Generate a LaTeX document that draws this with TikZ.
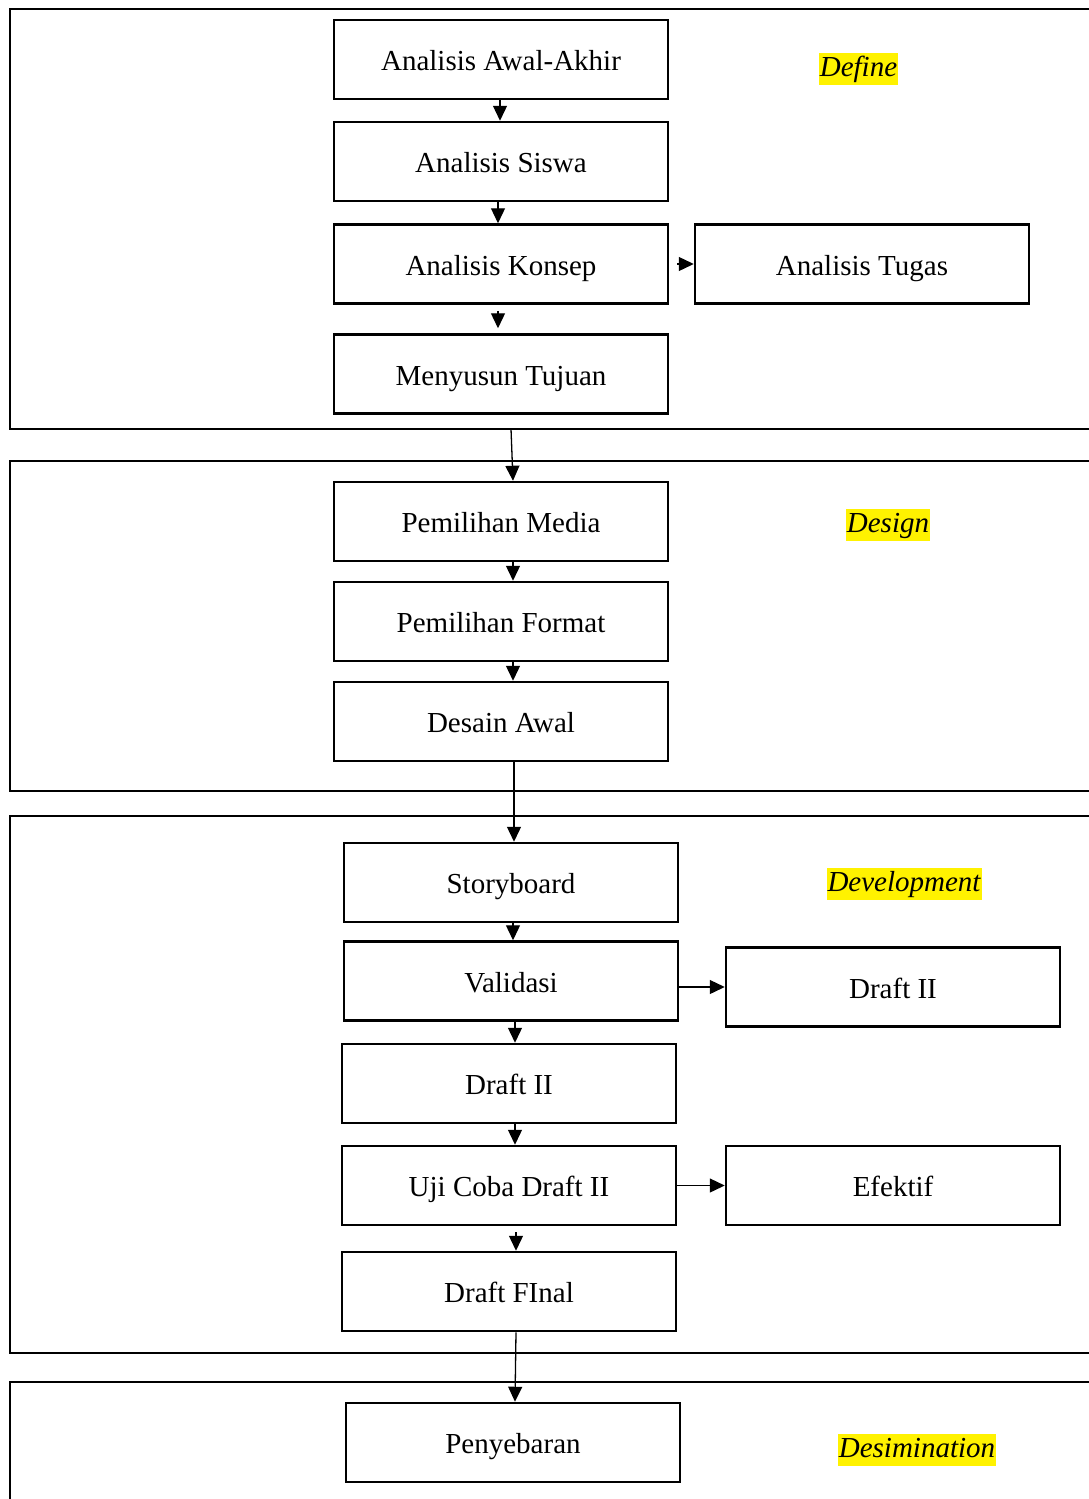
\documentclass[tikz,border=0pt]{standalone}
\usepackage{fontspec}
\setmainfont{Liberation Serif}
\usetikzlibrary{arrows.meta}
\begin{document}
\begin{tikzpicture}[x=1pt,y=-1pt,
  stepbox/.style={draw,line width=2.5pt,minimum width=334pt,minimum height=79pt,inner sep=0pt,
    text height=22pt,text depth=0pt,font=\fontsize{29}{34}\selectfont},
  frame/.style={draw,line width=2.5pt},
  arr/.style={line width=1.3pt,-{Triangle[length=15pt,width=14pt]}},
  phase/.style={fill=yellow,inner xsep=1pt,inner ysep=2pt,text height=21pt,text depth=7pt,
    font=\fontsize{29}{34}\selectfont\itshape}]
\clip (0,0) rectangle (1089,1499);
\fill[white] (0,0) rectangle (1089,1499);
% frames
\draw[frame] (10,9) rectangle (1110,429);
\draw[frame] (10,461) rectangle (1110,791);
\draw[frame] (10,816) rectangle (1110,1353);
\draw[frame] (10,1382) rectangle (1110,1530);
% define
\node[stepbox] (aa) at (501,59.5) {Analisis Awal-Akhir};
\node[stepbox] (as) at (501,161.5) {Analisis Siswa};
\node[stepbox] (ak) at (501,264) {Analisis Konsep};
\node[stepbox] (at) at (862,264) {Analisis Tugas};
\node[stepbox] (mt) at (501,374) {Menyusun Tujuan};
\node[phase] (ldef) at (858.5,69) {Define};
% design
\node[stepbox] (pm) at (501,521.5) {Pemilihan Media};
\node[stepbox] (pf) at (501,621.5) {Pemilihan Format};
\node[stepbox] (da) at (501,721.5) {Desain Awal};
\node[phase] (ldes) at (888,525) {Design};
% development
\node[stepbox] (sb) at (511,882.5) {Storyboard};
\node[stepbox] (va) at (511,981) {Validasi};
\node[stepbox] (dr) at (893,987) {Draft II};
\node[stepbox] (d2) at (509,1083.5) {Draft II};
\node[stepbox] (uj) at (509,1185.5) {Uji Coba Draft II};
\node[stepbox] (ef) at (893,1185.5) {Efektif};
\node[stepbox] (df) at (509,1291.5) {Draft FInal};
\node[phase] (ldev) at (904,884) {Development};
% dissemination
\node[stepbox] (py) at (513,1442.5) {Penyebaran};
\node[phase] (ldis) at (917,1450) {Desimination};
% coordinate on frame bottom
\coordinate (f1b) at (511,429);
% connectors
\draw[arr] ([xshift=-1pt]aa.south) -- ([xshift=-1pt]as.north);
\draw[arr] ([xshift=-3pt]as.south) -- ([xshift=-3pt]ak.north);
\draw[arr] ([xshift=-3pt,yshift=-6pt]ak.south) -- ([xshift=-3pt,yshift=5pt]mt.north);
\draw[arr] ([xshift=8pt]ak.east) -- (at.west);
\draw[arr] (f1b) -- ([xshift=12pt]pm.north);
\draw[arr] ([xshift=12pt]pm.south) -- ([xshift=12pt]pf.north);
\draw[arr] ([xshift=12pt]pf.south) -- ([xshift=12pt]da.north);
\draw[arr] ([xshift=13pt]da.south) -- ([xshift=3pt]sb.north);
\draw[arr] ([xshift=2pt]sb.south) -- ([xshift=2pt]va.north);
\draw[arr] (va.east |- dr.west) -- (dr.west);
\draw[arr] ([xshift=4pt]va.south) -- ([xshift=6pt]d2.north);
\draw[arr] ([xshift=6pt]d2.south) -- ([xshift=6pt]uj.north);
\draw[arr] (uj.east |- ef.west) -- (ef.west);
\draw[arr] ([xshift=7pt,yshift=-6pt]uj.south) -- ([xshift=7pt]df.north);
\draw[arr] ([xshift=7pt]df.south) -- ([xshift=2pt]py.north);
\end{tikzpicture}
\end{document}
